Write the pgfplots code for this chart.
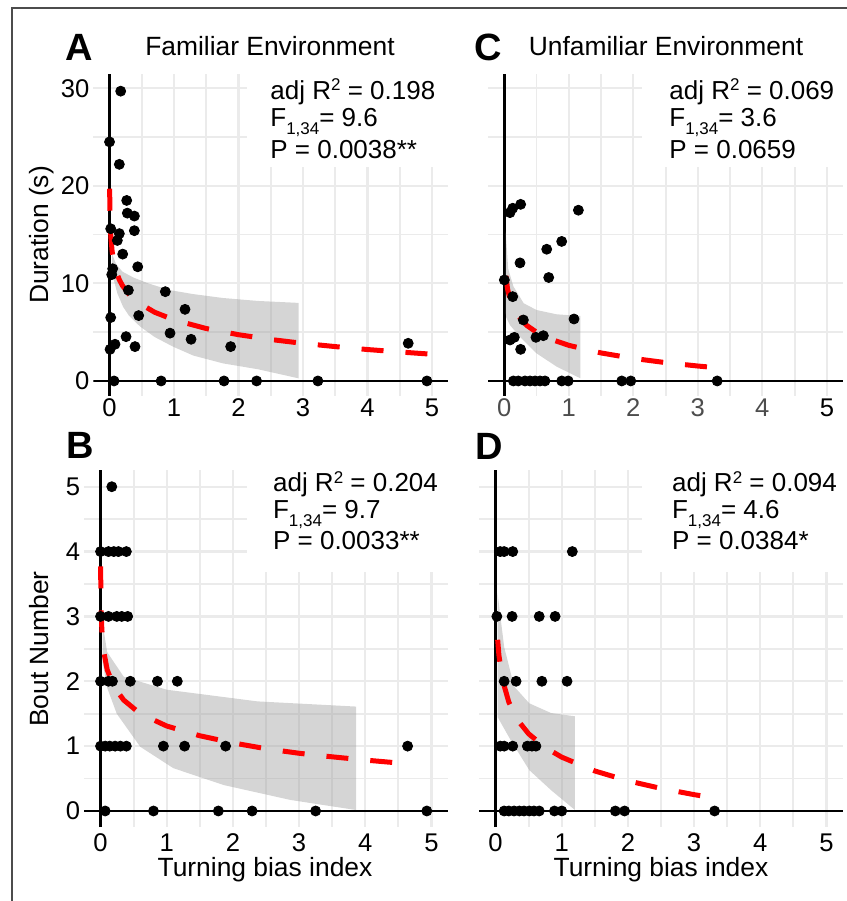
\documentclass[border=0pt]{standalone}
\usepackage{pgfplots}
\pgfplotsset{compat=1.18}
\usepackage{fontspec}
\setmainfont{Liberation Sans}
\definecolor{gridc}{RGB}{235,235,235}
\definecolor{bandc}{RGB}{150,150,150}
\definecolor{ticgray}{RGB}{77,77,77}
\newcommand{\px}[2]{({#1*0.5bp},{(901-#2)*0.5bp})}
\newcommand{\fs}[1]{\fontsize{#1bp}{#1bp}\selectfont}
\newcommand{\sq}{\raisebox{0.62ex}{\fs{8.5}2}}
\newcommand{\sub}{\raisebox{-4.3bp}{\fs{8.5}1,34}}
\tikzset{zeroline/.style={black, line width=1.4bp}}
\pgfplotsset{
  panel/.style={
    scale only axis, enlargelimits=false, anchor=south west,
    axis line style={draw=none}, tick style={draw=none},
    grid=both, minor tick num=1,
    major grid style={draw=gridc, line width=1.1bp},
    minor grid style={draw=gridc, line width=0.9bp},
    xmin=-0.25, xmax=5.25, xtick={0,1,2,3,4,5},
    ticklabel style={font=\fs{12.8}},
    /pgf/number format/assume math mode=true,
    yticklabel style={anchor=east, inner sep=0pt, xshift=-1.8bp},
  },
  toppanel/.style={width=177.4bp, height=161bp, ymin=-1.5, ymax=31.5, ytick={0,10,20,30},
    xticklabel style={anchor=north, inner sep=0pt, yshift=-1.4bp}},
  botpanel/.style={width=182bp, height=178.35bp, ymin=-0.25, ymax=5.25, ytick={0,1,2,3,4,5},
    xticklabel style={anchor=north, inner sep=0pt, yshift=-2.9bp}},
  pts/.style={only marks, mark=*, mark size=2.5bp, black, mark options={draw=black, fill=black}},
  band/.style={fill=bandc, fill opacity=0.4, draw=none},
  fit/.style={red, line width=2.5bp, dash pattern=on 11bp off 11bp},
}
\begin{document}
\begin{tikzpicture}
\path[use as bounding box] (0,0) rectangle (423.5bp,450.5bp);
\draw[black!70, line width=0.6bp] (6bp,0) -- (6bp,446.5bp) -- (423.5bp,446.5bp);

% ---------------- A ----------------
\begin{axis}[panel, toppanel, at={(46.7bp,252.7bp)}]
\fill[white] (rel axis cs:0.433,0.709) rectangle (rel axis cs:1,1);
\draw[zeroline] (axis cs:0,-1.5) -- (axis cs:0,31.5);
\draw[zeroline] (axis cs:-0.25,0) -- (axis cs:5.25,0);
\addplot[pts] coordinates {
(0.173,29.7)(0.0,24.5)(0.152,22.2)(0.266,18.5)(0.276,17.2)(0.385,16.9)(0.385,15.4)
(0.018,15.6)(0.152,15.1)(0.121,14.4)(0.204,13.0)(0.437,11.7)(0.049,11.5)(0.034,10.9)
(0.292,9.3)(0.865,9.15)(1.17,7.34)(0.452,6.7)(0.018,6.5)(0.938,4.9)(1.264,4.27)
(0.256,4.54)(1.878,3.52)(0.395,3.52)(0.085,3.76)(0.008,3.24)(4.63,3.86)
(0.07,0)(0.80,0)(1.775,0)(2.28,0)(3.23,0)(4.92,0)};
\addplot[band] coordinates {
(0.04,13.0)(0.1,12.0)(0.2,11.2)(0.37,10.6)(0.6,10.0)(0.94,9.3)(1.3,8.9)(1.76,8.5)(2.3,8.2)(2.93,8.0)
(2.93,0.27)(2.3,1.2)(1.76,1.8)(1.3,2.6)(0.99,3.5)(0.7,4.5)(0.47,5.6)(0.3,6.7)(0.21,7.6)(0.12,9.0)(0.06,10.5)(0.04,11.2)} -- cycle;
\addplot[fit] coordinates {
(0.002,19.7)(0.005,17.9)(0.01,16.35)(0.02,14.8)(0.04,13.3)(0.07,12.08)(0.1,11.3)(0.15,10.4)
(0.2,9.78)(0.3,8.9)(0.45,8.01)(0.7,7.04)(1.0,6.26)(1.5,5.37)(2.0,4.74)(2.5,4.25)
(3.0,3.85)(3.5,3.52)(4.0,3.22)(4.5,2.97)(4.95,2.76)};
\end{axis}

% ---------------- C ----------------
\begin{axis}[panel, toppanel, at={(244.1bp,252.7bp)}, yticklabels={},
  xticklabels={\textcolor{ticgray}{0},\textcolor{ticgray}{1},\textcolor{ticgray}{2},\textcolor{ticgray}{3},\textcolor{ticgray}{4},5}]
\fill[white] (rel axis cs:0.433,0.709) rectangle (rel axis cs:1,1);
\draw[zeroline] (axis cs:0,-1.5) -- (axis cs:0,31.5);
\draw[zeroline] (axis cs:-0.25,0) -- (axis cs:5.25,0);
\addplot[pts] coordinates {
(0.088,17.25)(0.13,17.7)(0.253,18.1)(1.148,17.5)(0.889,14.3)(0.657,13.5)(0.243,12.1)
(0.688,10.6)(0.0,10.35)(0.13,8.64)(0.295,6.25)(1.08,6.35)(0.49,4.47)(0.605,4.64)
(0.088,4.2)(0.155,4.47)(0.253,3.24)
(0.14,0)(0.217,0)(0.32,0)(0.398,0)(0.476,0)(0.553,0)(0.63,0)(0.89,0)(0.99,0)(1.82,0)(1.96,0)(3.30,0)};
\addplot[band] coordinates {
(0.02,15.3)(0.06,11.5)(0.14,9.7)(0.3,7.96)(0.5,7.27)(0.81,6.83)(1.18,6.66)
(1.18,0.27)(0.81,1.47)(0.5,2.83)(0.24,4.54)(0.09,5.7)(0.03,6.5)(0.02,7.0)} -- cycle;
\addplot[fit] coordinates {
(0.025,10.77)(0.05,9.43)(0.1,8.09)(0.2,6.76)(0.35,5.68)(0.5,4.99)(0.75,4.21)(1.0,3.65)
(1.5,2.87)(2.0,2.31)(2.5,1.88)(3.0,1.53)(3.31,1.34)};
\end{axis}

% ---------------- B ----------------
\begin{axis}[panel, botpanel, at={(42bp,36.9bp)}]
\fill[white] (rel axis cs:0.447,0.716) rectangle (rel axis cs:1,1);
\draw[zeroline] (axis cs:0,-0.25) -- (axis cs:0,5.25);
\draw[zeroline] (axis cs:-0.25,0) -- (axis cs:5.25,0);
\addplot[pts] coordinates {
(0.17,5)
(0,4)(0.12,4)(0.2,4)(0.27,4)(0.39,4)
(0,3)(0.12,3)(0.245,3)(0.32,3)(0.41,3)
(0,2)(0.12,2)(0.18,2)(0.45,2)(0.86,2)(1.16,2)
(0,1)(0.07,1)(0.14,1)(0.22,1)(0.3,1)(0.39,1)(0.95,1)(1.27,1)(1.89,1)(4.64,1)
(0.07,0)(0.8,0)(1.78,0)(2.29,0)(3.25,0)(4.93,0)};
\addplot[band] coordinates {
(0.03,2.9)(0.1,2.45)(0.35,2.07)(1.0,1.87)(2.37,1.69)(3.86,1.61)
(3.86,0.015)(2.87,0.17)(1.86,0.40)(1.1,0.66)(0.6,0.99)(0.245,1.5)(0.1,1.9)(0.03,2.3)} -- cycle;
\addplot[fit] coordinates {
(0.0015,3.77)(0.005,3.32)(0.01,3.06)(0.02,2.79)(0.05,2.45)(0.1,2.18)(0.2,1.92)(0.35,1.71)
(0.6,1.50)(1.0,1.31)(1.5,1.16)(2.0,1.05)(2.5,0.96)(3.0,0.89)(3.5,0.835)(4.0,0.785)(4.65,0.727)};
\end{axis}

% ---------------- D ----------------
\begin{axis}[panel, botpanel, at={(239.5bp,36.9bp)}, yticklabels={}]
\fill[white] (rel axis cs:0.447,0.716) rectangle (rel axis cs:1,1);
\draw[zeroline] (axis cs:0,-0.25) -- (axis cs:0,5.25);
\draw[zeroline] (axis cs:-0.25,0) -- (axis cs:5.25,0);
\addplot[pts] coordinates {
(0.07,4)(0.13,4)(0.26,4)(1.16,4)
(0.02,3)(0.25,3)(0.66,3)(0.9,3)
(0.13,2)(0.31,2)(0.7,2)(1.08,2)
(0.07,1)(0.13,1)(0.26,1)(0.48,1)(0.55,1)(0.61,1)
(0.13,0)(0.2,0)(0.28,0)(0.36,0)(0.43,0)(0.51,0)(0.58,0)(0.66,0)(0.89,0)(1.0,0)(1.81,0)(1.95,0)(3.31,0)};
\addplot[band] coordinates {
(0.03,3.36)(0.13,2.53)(0.28,1.92)(0.51,1.66)(0.84,1.51)(1.2,1.46)
(1.2,0.015)(0.84,0.32)(0.51,0.63)(0.23,1.09)(0.03,1.45)} -- cycle;
\addplot[fit] coordinates {
(0.032,2.64)(0.05,2.41)(0.1,2.04)(0.2,1.68)(0.35,1.38)(0.5,1.19)(0.75,0.98)(1.0,0.83)
(1.5,0.617)(2.0,0.465)(2.5,0.348)(3.0,0.252)(3.31,0.20)};
\end{axis}

% ---------------- texts ----------------
\node[anchor=base, font=\fs{19}\bfseries] at \px{79}{60.7} {A};
\node[anchor=base, font=\fs{19}\bfseries] at \px{488.5}{60.7} {C};
\node[anchor=base, font=\fs{19}\bfseries] at \px{80}{458} {B};
\node[anchor=base, font=\fs{19}\bfseries] at \px{489}{459} {D};
\node[anchor=base, font=\fs{13.2}] at \px{270}{55} {Familiar Environment};
\node[anchor=base, font=\fs{13.2}] at \px{666}{55} {Unfamiliar Environment};
\node[anchor=base, font=\fs{13.2}] at \px{265}{876.7} {Turning bias index};
\node[anchor=base, font=\fs{13.2}] at \px{661}{876.7} {Turning bias index};
\node[anchor=base, rotate=90, font=\fs{13.2}] at \px{48}{235} {Duration (s)};
\node[anchor=base, rotate=90, font=\fs{13.2}] at \px{48}{649} {Bout Number};

\foreach \xx/\ra/\rb/\rc in {270/0.198/9.6/0.0038**, 669/0.069/3.6/0.0659}{
  \node[anchor=base west, font=\fs{13}, inner sep=0pt] at \px{\xx}{99.3} {adj R\sq{} = \ra};
  \node[anchor=base west, font=\fs{13}, inner sep=0pt] at \px{\xx}{126} {F\sub= \rb};
  \node[anchor=base west, font=\fs{13}, inner sep=0pt] at \px{\xx}{158.3} {P = \rc};
}
\foreach \xx/\ra/\rb/\rc in {272.7/0.204/9.7/0.0033**, 671.7/0.094/4.6/0.0384*}{
  \node[anchor=base west, font=\fs{13}, inner sep=0pt] at \px{\xx}{491.7} {adj R\sq{} = \ra};
  \node[anchor=base west, font=\fs{13}, inner sep=0pt] at \px{\xx}{518.3} {F\sub= \rb};
  \node[anchor=base west, font=\fs{13}, inner sep=0pt] at \px{\xx}{549.5} {P = \rc};
}
\end{tikzpicture}
\end{document}
